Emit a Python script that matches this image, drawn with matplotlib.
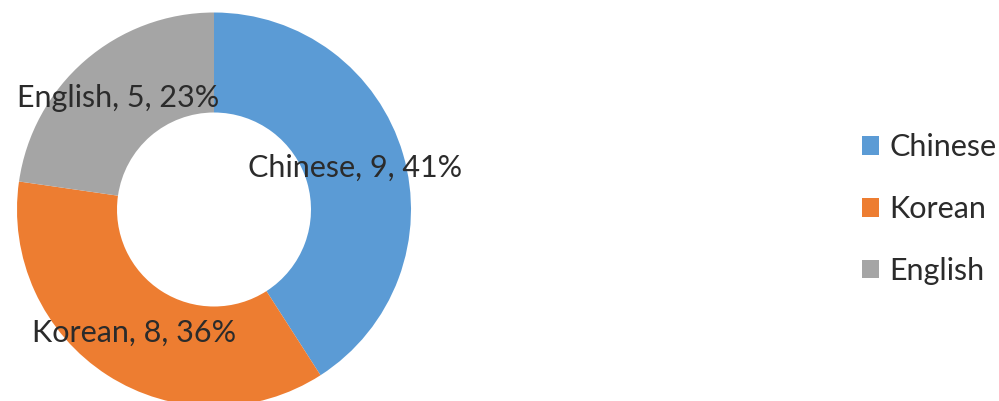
import matplotlib
matplotlib.use("Agg")
import matplotlib.pyplot as plt
import numpy as np

plt.rcParams["font.family"] = ["Lato", "DejaVu Sans"]

# data
languages = ["Chinese", "Korean", "English"]
counts = [9, 8, 5]
colors = ["#5B9BD5", "#ED7D31", "#A5A5A5"]

TEXT = "#2b2b2b"
FS = 22

fig = plt.figure(figsize=(9.99, 4.01), dpi=100)
ax = fig.add_axes([0, 0, 1, 1])

R_OUT = 197
RING = 100
cx, cy = 214, 401 - 209.5

wedges, _ = ax.pie(counts, colors=colors, startangle=90, counterclock=False,
                   radius=R_OUT, center=(cx, cy),
                   wedgeprops=dict(width=RING, linewidth=0))

# data labels in the middle of the ring
total = sum(counts)
for w, name, n in zip(wedges, languages, counts):
    mid = np.deg2rad((w.theta1 + w.theta2) / 2)
    r = R_OUT - RING / 2
    ax.text(cx + r * np.cos(mid), cy + r * np.sin(mid),
            f"{name}, {n}, {round(100 * n / total)}%",
            ha="center", va="center", fontsize=FS, color=TEXT)

ax.set_xlim(0, 999)
ax.set_ylim(0, 401)
ax.set_aspect("equal")
ax.axis("off")

ax.legend(wedges, languages, loc="center left",
          bbox_to_anchor=(862 / 999, 192 / 401), frameon=False,
          fontsize=FS, handlelength=0.56, handleheight=0.56,
          handletextpad=0.33, labelspacing=1.1, borderpad=0,
          borderaxespad=0, labelcolor=TEXT)

fig.savefig("out.png", dpi=100)
